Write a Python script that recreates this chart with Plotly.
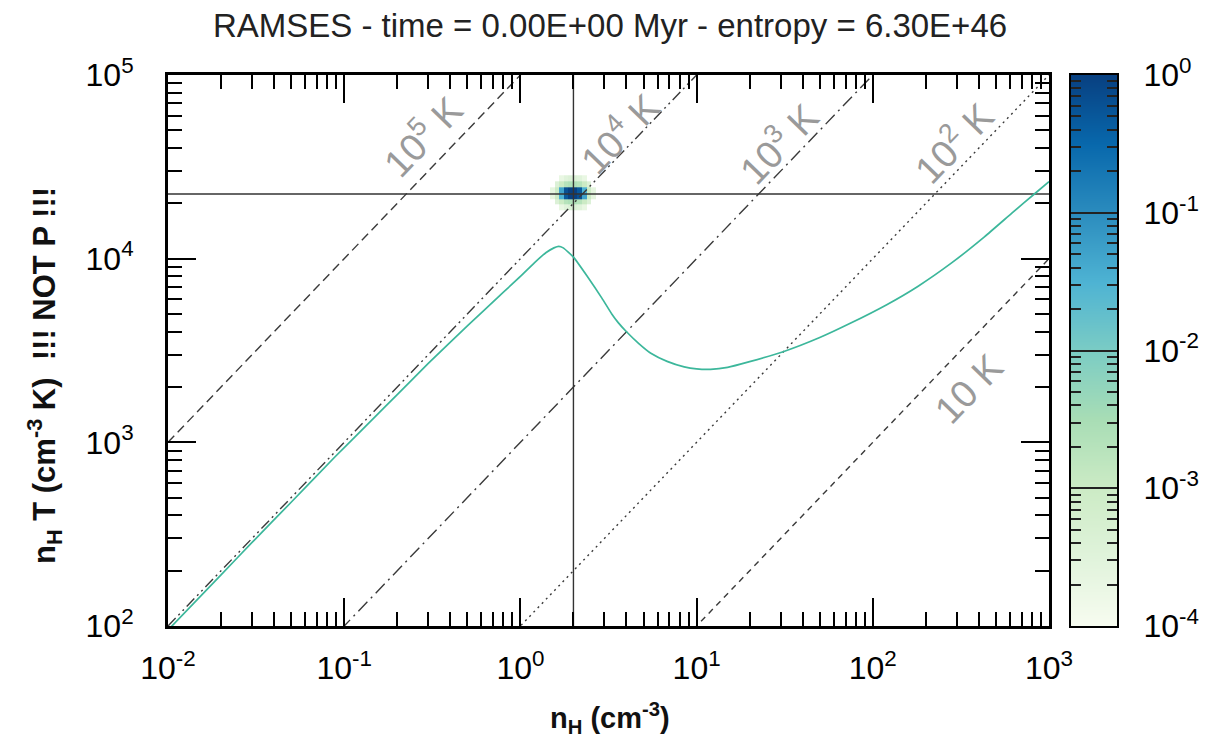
import numpy as np
import plotly.graph_objects as go

# ---------------- data ----------------
# equilibrium curve (n_H [cm^-3], n_H*T [cm^-3 K])
curve_n = [0.010, 0.020, 0.030, 0.050, 0.0885, 0.15, 0.20, 0.30, 0.507, 0.75, 1.00, 1.20,
           1.40, 1.55, 1.65, 1.75, 2.00, 2.40, 2.90, 3.30, 3.60, 4.00, 4.70, 5.50, 6.80,
           8.50, 10.0, 12.0, 15.0, 20.0, 31.0, 50.0, 75.0, 120.0, 180.0, 280.0, 430.0,
           620.0, 826.0, 1000.0]
curve_nT = [95, 190, 285, 472, 832, 1380, 1820, 2690, 4355, 6200, 8000, 9500,
            10800, 11450, 11670, 11450, 10200, 8000, 6100, 5000, 4470, 4000, 3450, 3055, 2760,
            2577, 2510, 2495, 2560, 2750, 3114, 3720, 4460, 5615, 7060, 9480, 13150,
            17800, 22500, 26300]

# isotherms
iso_T = [1e5, 1e4, 1e3, 1e2, 1e1]
iso_labels = ["10<sup>5</sup> K", "10<sup>4</sup> K", "10<sup>3</sup> K", "10<sup>2</sup> K", "10 K"]
n_range = [1e-2, 1e3]
nT_range = [1e2, 1e5]

# cross-hair (mean state)
cross_n = 2.0
cross_nT = 2.25e4

# 2D histogram of the single cell (log10 bin edges, log10 mass fraction)
blob_logx_edges = [0.168, 0.194, 0.220, 0.246, 0.272, 0.298, 0.324, 0.350, 0.376, 0.402, 0.428]
blob_logy_edges = [4.262, 4.294, 4.326, 4.358, 4.390, 4.422, 4.454]
blob_logz = [
    [None, None, -3.7, -3.5, -3.4, -3.4, -3.5, -3.7, None, None],
    [None, -3.4, -3.0, -2.7, -2.6, -2.6, -2.7, -3.0, -3.4, None],
    [-3.6, -3.0, -1.5, -0.3, 0.0, 0.0, -0.2, -1.3, -3.0, -3.6],
    [-3.6, -3.0, -1.3, -0.2, 0.0, 0.0, -0.3, -1.5, -3.0, -3.6],
    [None, -3.4, -3.0, -2.7, -2.6, -2.6, -2.7, -3.0, -3.4, None],
    [None, None, -3.7, -3.5, -3.4, -3.4, -3.5, -3.7, None, None],
]

# colour bar levels (log10 mass fraction)
cbar_levels = [-4.5, -4.0, -3.5, -3.0, -2.5, -2.0, -1.5, -1.0, -0.5, 0.0, 0.5]
cbar_exponents = [-4, -3, -2, -1, 0]
x_exponents = [-2, -1, 0, 1, 2, 3]
y_exponents = [2, 3, 4, 5]

# ---------------- figure ----------------
FONT = "Liberation Sans, Arial, Helvetica, sans-serif"
LINE_COL = "#3a3a3a"
L, R, T, B = 160, 115, 67, 129          # page body has an 8px margin
PW = 1224 - L - R                        # 949
PH = 747 - T - B                         # 551
fig = go.Figure()

dashes = ["9px,5px", "11px,4px,2px,4px,2px,4px", "13px,5px,2px,5px", "2px,4px", "6px,5px"]
for Tk, d in zip(iso_T, dashes):
    fig.add_trace(go.Scatter(x=n_range, y=[n * Tk for n in n_range], mode="lines",
                             line=dict(color=LINE_COL, width=1.4, dash=d),
                             hoverinfo="skip", showlegend=False))

# cross-hair
fig.add_trace(go.Scatter(x=[cross_n, cross_n], y=nT_range, mode="lines",
                         line=dict(color="#333333", width=1.4), showlegend=False, hoverinfo="skip"))
fig.add_trace(go.Scatter(x=n_range, y=[cross_nT, cross_nT], mode="lines",
                         line=dict(color="#333333", width=1.4), showlegend=False, hoverinfo="skip"))

# histogram blob
fig.add_trace(go.Heatmap(
    x=[10 ** v for v in blob_logx_edges], y=[10 ** v for v in blob_logy_edges],
    z=[[np.nan if v is None else v for v in row] for row in blob_logz],
    zmin=-4, zmax=0, colorscale="GnBu", hoverongaps=False, showscale=False))

# equilibrium curve
fig.add_trace(go.Scatter(x=curve_n, y=curve_nT, mode="lines",
                         line=dict(color="#3cb79b", width=1.7, shape="spline", smoothing=0.5),
                         showlegend=False, hoverinfo="skip"))

# colour bar drawn as a heatmap on its own axes (so ticks can sit on top)
fig.add_trace(go.Heatmap(x=[0, 1], y=cbar_levels, z=[[v, v] for v in cbar_levels],
                         zmin=-4, zmax=0, colorscale="GnBu", zsmooth="best",
                         showscale=False, hoverinfo="skip", xaxis="x2", yaxis="y2"))

def sup_label(e):
    return "10<sup>%d</sup>" % e

def minor_vals(exps):
    out = []
    for e in exps[:-1]:
        out += [k * 10.0 ** e for k in range(2, 10)]
    return out

axis_common = dict(type="log", showgrid=False, zeroline=False, showline=True, linewidth=3,
                   linecolor="black", mirror="allticks", ticks="inside", ticklen=28,
                   tickwidth=2, tickcolor="black", tickmode="array",
                   tickfont=dict(family=FONT, size=32, color="black"))

fig.update_layout(
    width=1224, height=747,
    margin=dict(l=L, r=R, t=T, b=B),
    paper_bgcolor="white", plot_bgcolor="white",
    showlegend=False,
    title=dict(text="RAMSES - time = 0.00E+00 Myr - entropy = 6.30E+46",
               x=(610 - 8) / 1224, xref="container", xanchor="center",
               y=1 - 17 / 747, yref="container", yanchor="middle",
               font=dict(family=FONT, size=33, color="#222222")),
    xaxis=dict(axis_common, domain=[0, 881 / PW], range=[-2, 3],
               tickvals=[10.0 ** e for e in x_exponents],
               ticktext=[sup_label(e) for e in x_exponents],
               minor=dict(tickmode="array", tickvals=minor_vals(x_exponents), ticks="inside",
                          ticklen=14, tickwidth=2, tickcolor="black"),
               ticklabelstandoff=12),
    yaxis=dict(axis_common, range=[2, 5],
               tickvals=[10.0 ** e for e in y_exponents],
               ticktext=[sup_label(e) for e in y_exponents],
               minor=dict(tickmode="array", tickvals=minor_vals(y_exponents), ticks="inside",
                          ticklen=14, tickwidth=2, tickcolor="black"),
               ticklabelstandoff=25),
    xaxis2=dict(domain=[903 / PW, 1.0], range=[0, 1], anchor="y2",
                showgrid=False, zeroline=False, showticklabels=False, ticks="",
                showline=True, linewidth=2, linecolor="black", mirror=True),
    yaxis2=dict(domain=[0, 1], range=[-4, 0], anchor="x2", side="right",
                showgrid=False, zeroline=False, showline=True, linewidth=2,
                linecolor="black", mirror="allticks", ticks="inside", ticklen=23,
                tickwidth=2, tickcolor="#222222", tickmode="array",
                tickvals=cbar_exponents, ticktext=[sup_label(e) for e in cbar_exponents],
                tickfont=dict(family=FONT, size=32, color="black"),
                ticklabelstandoff=18,
                minor=dict(tickmode="array",
                           tickvals=[np.log10(k) + e for e in cbar_exponents[:-1] for k in range(2, 10)],
                           ticks="inside", ticklen=10, tickwidth=2, tickcolor="#222222")),
)

# axis titles
fig.add_annotation(x=(610 - 168) / PW, y=(626 - 718) / PH, xref="paper", yref="paper",
                   text="<b>n<sub>H</sub> (cm<sup>-3</sup>)</b>", showarrow=False,
                   xanchor="center", yanchor="middle",
                   font=dict(family=FONT, size=29, color="#111111"))
fig.add_annotation(x=(44 - 168) / PW, y=(626 - 376) / PH, xref="paper", yref="paper",
                   text="<b>n<sub>H</sub> T (cm<sup>-3</sup> K)  !!! NOT P !!!</b>", showarrow=False,
                   textangle=-90, xanchor="center", yanchor="middle",
                   font=dict(family=FONT, size=31, color="#111111"))

label_pos = [(-0.5625, 4.672), (0.557, 4.689), (1.460, 4.634), (2.4545, 4.639), (2.545, 3.290)]
for (lx, ly), txt in zip(label_pos, iso_labels):
    fig.add_annotation(x=lx, y=ly, xref="x", yref="y", text=txt, showarrow=False,
                       textangle=-46, font=dict(family=FONT, size=38, color="#9a9a9a"))

fig.write_html("out.html")
